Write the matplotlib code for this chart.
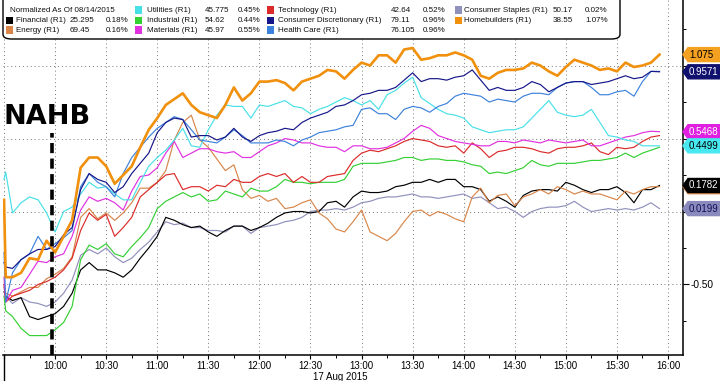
import matplotlib
matplotlib.use('Agg')
import matplotlib.pyplot as plt
import matplotlib.transforms as mtransforms
from matplotlib.patches import Polygon, FancyBboxPatch, Rectangle
from matplotlib.lines import Line2D
from matplotlib.ticker import FixedLocator, MultipleLocator

# minutes after 09:30, 17 Aug 2015
minutes = [0, 1] + list(range(5, 390, 5))

homebuilders = [0.08, -0.45, -0.45, -0.42, -0.32, -0.33, -0.20,
    -0.28, -0.17, -0.06, 0.30, 0.37, 0.37, 0.31, 0.19, 0.25, 0.31, 0.44, 0.56,
    0.64, 0.73, 0.77, 0.81, 0.73, 0.68, 0.66, 0.64, 0.73, 0.85, 0.76, 0.81,
    0.89, 0.89, 0.90, 0.88, 0.83, 0.89, 0.91, 0.93, 0.97, 0.96, 0.91, 0.97,
    1.02, 1.00, 1.07, 1.07, 1.02, 1.11, 1.12, 1.04, 1.05, 1.07, 1.07, 1.09,
    1.07, 1.04, 0.93, 0.91, 0.95, 0.97, 0.97, 0.98, 1.02, 1.00, 0.96, 0.93,
    0.99, 1.04, 1.02, 1.00, 0.97, 0.98, 0.96, 1.02, 0.99, 1.00, 1.02, 1.075]
cons_disc = [-0.35, -0.38, -0.39, -0.33, -0.29, -0.26, -0.26,
    -0.24, -0.16, -0.11, 0.15, 0.26, 0.22, 0.20, 0.13, 0.17, 0.26, 0.33, 0.40,
    0.54, 0.61, 0.64, 0.63, 0.51, 0.52, 0.52, 0.49, 0.51, 0.57, 0.51, 0.48,
    0.52, 0.54, 0.55, 0.57, 0.56, 0.61, 0.64, 0.66, 0.68, 0.72, 0.73, 0.76,
    0.80, 0.81, 0.83, 0.83, 0.85, 0.90, 0.95, 0.89, 0.91, 0.91, 0.90, 0.92,
    0.93, 0.97, 0.90, 0.83, 0.85, 0.83, 0.83, 0.85, 0.89, 0.87, 0.82, 0.85,
    0.88, 0.89, 0.89, 0.87, 0.88, 0.89, 0.91, 0.93, 0.91, 0.92, 0.96, 0.9571]
health_care = [-0.28, -0.62, -0.42, -0.33, -0.29, -0.17, -0.26,
    -0.22, -0.18, -0.13, 0.17, 0.26, 0.20, 0.17, 0.10, 0.26, 0.37, 0.44, 0.51,
    0.57, 0.61, 0.65, 0.63, 0.56, 0.49, 0.48, 0.47, 0.51, 0.56, 0.52, 0.47,
    0.47, 0.47, 0.49, 0.48, 0.45, 0.49, 0.51, 0.54, 0.55, 0.56, 0.58, 0.59,
    0.70, 0.71, 0.67, 0.67, 0.63, 0.70, 0.72, 0.71, 0.68, 0.72, 0.74, 0.79,
    0.81, 0.80, 0.79, 0.75, 0.77, 0.76, 0.75, 0.79, 0.81, 0.81, 0.80, 0.85,
    0.88, 0.89, 0.89, 0.85, 0.80, 0.80, 0.82, 0.83, 0.79, 0.89, 0.96, 0.96]
utilities = [0.22, 0.27, -0.01, 0.06, 0.10, 0.08, -0.01,
    -0.14, 0.00, 0.03, 0.12, 0.20, 0.16, 0.17, 0.12, 0.08, 0.08, 0.20, 0.31,
    0.37, 0.42, 0.49, 0.57, 0.45, 0.44, 0.56, 0.66, 0.73, 0.72, 0.72, 0.64,
    0.73, 0.72, 0.74, 0.76, 0.72, 0.71, 0.67, 0.70, 0.72, 0.75, 0.78, 0.76,
    0.73, 0.76, 0.70, 0.80, 0.83, 0.88, 0.92, 0.78, 0.74, 0.70, 0.67, 0.66,
    0.64, 0.58, 0.56, 0.54, 0.55, 0.56, 0.56, 0.58, 0.64, 0.70, 0.76, 0.68,
    0.66, 0.65, 0.66, 0.70, 0.61, 0.52, 0.51, 0.49, 0.48, 0.45, 0.45, 0.4499]
materials = [-0.45, -0.62, -0.54, -0.52, -0.43, -0.34, -0.35,
    -0.31, -0.29, -0.17, 0.01, 0.10, 0.07, 0.09, 0.06, 0.01, 0.14, 0.24, 0.25,
    0.30, 0.40, 0.48, 0.37, 0.40, 0.43, 0.43, 0.41, 0.40, 0.41, 0.37, 0.37,
    0.41, 0.45, 0.47, 0.50, 0.49, 0.47, 0.47, 0.45, 0.44, 0.44, 0.41, 0.45,
    0.45, 0.43, 0.43, 0.44, 0.47, 0.50, 0.55, 0.59, 0.57, 0.52, 0.50, 0.48,
    0.47, 0.46, 0.45, 0.45, 0.48, 0.48, 0.47, 0.49, 0.48, 0.47, 0.49, 0.48,
    0.47, 0.48, 0.49, 0.45, 0.45, 0.47, 0.49, 0.51, 0.52, 0.54, 0.55, 0.5468]
technology = [-0.50, -0.62, -0.58, -0.56, -0.54, -0.50, -0.48,
    -0.45, -0.40, -0.32, -0.13, -0.01, -0.06, -0.02, -0.17, -0.11, -0.04, 0.10, 0.15,
    0.20, 0.25, 0.26, 0.15, 0.17, 0.17, 0.14, 0.18, 0.17, 0.22, 0.20, 0.20,
    0.24, 0.26, 0.24, 0.26, 0.20, 0.24, 0.20, 0.20, 0.24, 0.25, 0.26, 0.35,
    0.40, 0.42, 0.41, 0.43, 0.45, 0.48, 0.50, 0.49, 0.48, 0.45, 0.44, 0.45,
    0.40, 0.47, 0.43, 0.37, 0.41, 0.42, 0.44, 0.44, 0.43, 0.41, 0.40, 0.43,
    0.44, 0.44, 0.45, 0.47, 0.41, 0.39, 0.44, 0.43, 0.44, 0.48, 0.51, 0.52]
industrial = [-0.58, -0.68, -0.72, -0.80, -0.85, -0.85, -0.85,
    -0.81, -0.76, -0.65, -0.33, -0.23, -0.26, -0.22, -0.29, -0.31, -0.24, -0.18, -0.11,
    0.02, 0.07, 0.10, 0.13, 0.10, 0.12, 0.07, 0.08, 0.14, 0.12, 0.10, 0.16,
    0.14, 0.14, 0.17, 0.22, 0.20, 0.20, 0.19, 0.20, 0.20, 0.20, 0.22, 0.31,
    0.33, 0.33, 0.33, 0.34, 0.35, 0.37, 0.37, 0.35, 0.36, 0.36, 0.35, 0.35,
    0.34, 0.32, 0.31, 0.26, 0.27, 0.26, 0.28, 0.30, 0.35, 0.32, 0.31, 0.33,
    0.33, 0.33, 0.34, 0.35, 0.35, 0.36, 0.37, 0.40, 0.37, 0.40, 0.42, 0.44]
energy = [-0.50, -0.56, -0.58, -0.55, -0.52, -0.52, -0.46,
    -0.43, -0.39, -0.31, -0.04, 0.02, -0.05, -0.01, -0.06, -0.01, 0.06, 0.16, 0.16,
    0.20, 0.28, 0.49, 0.61, 0.66, 0.49, 0.44, 0.36, 0.28, 0.32, 0.15, 0.09,
    0.11, 0.07, 0.09, 0.02, 0.03, 0.06, 0.08, -0.01, -0.05, -0.12, -0.14, -0.07,
    0.01, -0.14, -0.17, -0.20, -0.15, -0.07, 0.00, 0.01, -0.03, 0.00, -0.02, -0.05,
    -0.07, 0.10, 0.16, 0.06, 0.11, 0.12, 0.04, 0.10, 0.12, 0.15, 0.12, 0.17,
    0.15, 0.12, 0.14, 0.12, 0.12, 0.10, 0.08, 0.14, 0.12, 0.15, 0.17, 0.17]
financial = [-0.55, -0.58, -0.61, -0.59, -0.72, -0.74, -0.72,
    -0.70, -0.65, -0.56, -0.40, -0.35, -0.40, -0.40, -0.42, -0.45, -0.40, -0.32, -0.25,
    -0.17, -0.04, -0.06, -0.09, -0.11, -0.10, -0.14, -0.17, -0.13, -0.10, -0.10, -0.13,
    -0.11, -0.08, -0.04, -0.01, 0.00, 0.00, -0.01, 0.00, 0.06, 0.07, 0.03, 0.10,
    0.14, 0.13, 0.13, 0.14, 0.17, 0.18, 0.20, 0.20, 0.22, 0.20, 0.22, 0.22,
    0.17, 0.17, 0.15, 0.07, 0.10, 0.07, 0.03, 0.11, 0.14, 0.15, 0.15, 0.14,
    0.20, 0.18, 0.15, 0.13, 0.15, 0.15, 0.17, 0.13, 0.06, 0.15, 0.15, 0.1782]
cons_staples = [-0.52, -0.58, -0.63, -0.59, -0.62, -0.63, -0.65,
    -0.62, -0.56, -0.47, -0.30, -0.26, -0.29, -0.25, -0.31, -0.35, -0.32, -0.26, -0.21,
    -0.14, -0.07, -0.09, -0.08, -0.11, -0.11, -0.13, -0.13, -0.14, -0.10, -0.10, -0.15,
    -0.11, -0.10, -0.09, -0.07, -0.06, -0.04, 0.00, 0.01, 0.01, 0.02, 0.01, 0.03,
    0.06, 0.07, 0.09, 0.10, 0.10, 0.11, 0.12, 0.10, 0.10, 0.09, 0.10, 0.11,
    0.12, 0.09, 0.10, 0.06, 0.02, 0.03, 0.00, -0.04, 0.00, 0.02, 0.03, 0.03,
    0.04, 0.07, 0.03, 0.00, 0.01, 0.02, 0.01, 0.02, 0.01, 0.03, 0.06, 0.0199]

legend_names = ['Financial', 'Energy', 'Utilities', 'Industrial', 'Materials',
                'Technology', 'Consumer Discretionary', 'Health Care',
                'Consumer Staples', 'Homebuilders']
last_prices = [25.295, 69.45, 45.775, 54.62, 45.97, 42.64, 79.11, 76.105, 50.17, 38.55]
pct_changes = [0.18, 0.16, 0.45, 0.44, 0.55, 0.52, 0.96, 0.96, 0.02, 1.07]

xtick_labels = ['', '10:00', '10:30', '11:00', '11:30', '12:00', '12:30', '13:00',
                '13:30', '14:00', '14:30', '15:00', '15:30', '16:00']
nahb_minute = 28

colors = {'Financial': '#000000', 'Energy': '#d8864a', 'Utilities': '#48e0e8',
          'Industrial': '#34d034', 'Materials': '#e030e0', 'Technology': '#dc2a2a',
          'Consumer Discretionary': '#16168a', 'Health Care': '#3c82dc',
          'Consumer Staples': '#9090bc', 'Homebuilders': '#f0900c'}
series = [financial, energy, utilities, industrial, materials, technology,
          cons_disc, health_care, cons_staples, homebuilders]

plt.rcParams['font.family'] = ['Liberation Sans', 'DejaVu Sans']

W, H = 720, 381
fig = plt.figure(figsize=(W / 100, H / 100), dpi=100)
ax = fig.add_axes([3 / W, (H - 355) / H, 680 / W, 355 / H])

# draw order: thin lines first, homebuilders on top
order = [8, 0, 1, 3, 5, 4, 2, 7, 6, 9]
for i in order:
    name = legend_names[i]
    lw = 1.9 if name == 'Homebuilders' else 0.85
    ax.plot(minutes, series[i], color=colors[name], lw=lw, zorder=3 + (i == 9))

ax.set_xlim(-0.6, 398.8)
ax.set_ylim(-0.983, 1.449)

ax.vlines(nahb_minute, -0.983, 0.54, colors='black', lw=2.6,
          linestyles=(0, (2.8, 1.5)), zorder=6)
ax.text(-0.3, 0.60, 'NAHB', family='DejaVu Sans', fontweight='bold',
        fontsize=19.5, ha='left', va='baseline', zorder=7)

for s in ['left', 'top']:
    ax.spines[s].set_visible(False)
for s in ['right', 'bottom']:
    ax.spines[s].set_linewidth(1.1)

ax.yaxis.tick_right()
ax.yaxis.set_major_locator(FixedLocator([-0.5, 0.0, 0.5, 1.0]))
ax.yaxis.set_minor_locator(MultipleLocator(0.25))
ax.set_yticklabels(['-0.50', '', '', ''])
ax.set_xticks(list(range(0, 391, 30)))
ax.set_xticklabels(xtick_labels)
ax.xaxis.set_minor_locator(MultipleLocator(15))
ax.tick_params(which='major', direction='out', length=3, width=0.8, labelsize=7.0,
               pad=1.0, colors='black')
ax.tick_params(axis='y', which='major', length=4, pad=1.5, labelsize=7.3)
ax.tick_params(which='minor', direction='out', length=2.5, width=0.7)
ax.grid(which='major', color='#777777', lw=0.7, ls=(0, (1, 3)))
ax.set_axisbelow(True)

# day separator below the time axis
fig.add_artist(Line2D([3.5 / W, 3.5 / W], [0, (H - 355) / H], color='black',
                      lw=1.0, transform=fig.transFigure))

fig.text(340 / W, 1 - 376.5 / H, '17 Aug 2015', ha='center', va='center',
         fontsize=7.0)

# last-value tags on the right axis
trans = mtransforms.blended_transform_factory(fig.transFigure, ax.transData)
hh = 7 / 146.0
tags = [(1, '#d8864a', 'black'), (9, '#f4a020', 'black'), (6, '#10106e', 'white'),
        (4, '#e020e0', 'white'), (2, '#48e8f0', 'black'), (0, '#000000', 'white'),
        (8, '#8a8abc', '#10105a')]
for k, (i, fc, tc) in enumerate(tags):
    v = series[i][-1]
    x0, x1, x2 = 683 / W, 688 / W, 1.0
    poly = Polygon([(x0, v), (x1, v + hh), (x2, v + hh), (x2, v - hh), (x1, v - hh)],
                   closed=True, transform=trans, facecolor=fc, edgecolor=fc,
                   clip_on=False, zorder=10 + k)
    fig.add_artist(poly)
    if i != 1:
        fig.text(689 / W, v, '{:.4g}'.format(v), transform=trans, color=tc,
                 fontsize=7.0, ha='left', va='center', zorder=10 + k)

# legend box
box = FancyBboxPatch((3 / W, 1 - 39 / H), 617 / W, 45 / H,
                     boxstyle='round,pad=0,rounding_size=0.012',
                     transform=fig.transFigure, facecolor='white',
                     edgecolor='black', lw=1.0, zorder=20)
fig.add_artist(box)

row_y = [10, 20, 30]
col_x = [(6, 16, 70, 106), (135, 147, 205, 238), (267, 278, 391, 423),
         (455, 464, 553, 585)]
slots = [(0, 1), (0, 2), (1, 0), (1, 1), (1, 2), (2, 0), (2, 1), (2, 2), (3, 0), (3, 1)]
fs = 5.8
fig.text(10 / W, 1 - row_y[0] / H, 'Normalized As Of 08/14/2015', fontsize=fs,
         ha='left', va='center', zorder=21, color='#111111')
for i, name in enumerate(legend_names):
    c, r = slots[i]
    sx, nx, px, qx = col_x[c]
    y = 1 - row_y[r] / H
    sq = Rectangle((sx / W, y - 3.5 / H), 7 / W, 7 / H, transform=fig.transFigure,
                   facecolor=colors[name], edgecolor='none', zorder=21)
    fig.add_artist(sq)
    fig.text(nx / W, y, name + ' (R1)', fontsize=fs, ha='left', va='center',
             zorder=21, color='#111111')
    fig.text(px / W, y, str(last_prices[i]), fontsize=fs, ha='left', va='center',
             zorder=21, color='#111111')
    fig.text(qx / W, y, '{:.2f}%'.format(pct_changes[i]), fontsize=fs, ha='left',
             va='center', zorder=21, color='#111111')

fig.savefig('out.png', dpi=100)
